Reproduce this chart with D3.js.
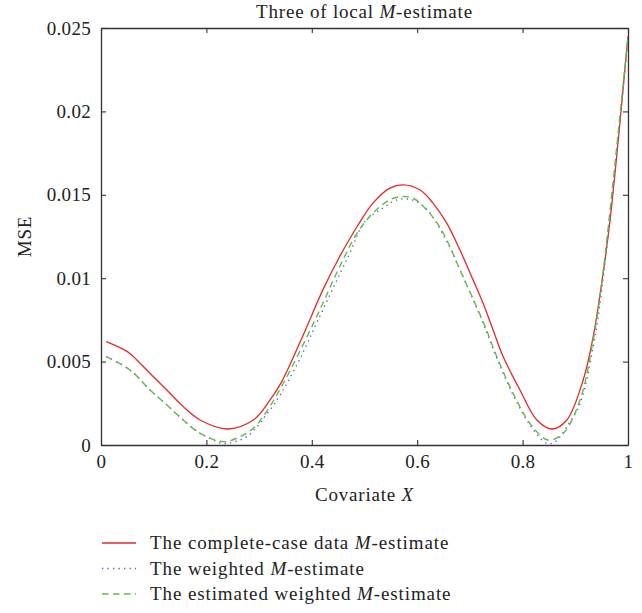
<!DOCTYPE html>
<html lang="en">
<head>
  <meta charset="UTF-8">
  <title>Three of local M-estimate</title>
  <style>
    body { margin: 0; background: #fff; }
    svg text { font-family: "Liberation Serif", "DejaVu Serif", serif; fill: #222; }
  </style>
</head>
<body>
  <div id="chart"></div>

  <script src="https://d3js.org/d3.v7.min.js"></script>

  <script>
    // values
    var xTicks = [0, 0.2, 0.4, 0.6, 0.8, 1];
    var yTicks = [0, 0.005, 0.01, 0.015, 0.02, 0.025];

    var completeX = [0.01, 0.05, 0.068, 0.093, 0.125, 0.156, 0.188, 0.24, 0.289, 0.321, 0.343, 0.381, 0.421, 0.453, 0.486, 0.516, 0.548, 0.573, 0.605, 0.630, 0.656, 0.681, 0.706, 0.725, 0.744, 0.763, 0.795, 0.827, 0.856, 0.884, 0.915, 0.934, 0.951, 0.966, 1.0];
    var completeY = [0.0062, 0.0056, 0.0051, 0.0043, 0.0033, 0.0023, 0.0015, 0.00096, 0.0015, 0.0027, 0.0038, 0.0064, 0.0093, 0.0113, 0.0131, 0.0145, 0.0154, 0.0156, 0.0153, 0.0145, 0.0133, 0.0117, 0.0099, 0.0085, 0.0069, 0.0053, 0.0033, 0.0015, 0.00096, 0.0015, 0.0039, 0.0065, 0.0099, 0.0135, 0.0245];

    var weightedX = [0.01, 0.055, 0.093, 0.125, 0.156, 0.188, 0.207, 0.23, 0.254, 0.277, 0.296, 0.311, 0.334, 0.353, 0.378, 0.412, 0.469, 0.501, 0.535, 0.562, 0.590, 0.619, 0.656, 0.687, 0.725, 0.751, 0.782, 0.814, 0.846, 0.862, 0.884, 0.909, 0.934, 0.951, 1.0];
    var weightedY = [0.0053, 0.0045, 0.0033, 0.0024, 0.0015, 0.0007, 0.0004, 0.0001, 0.0002, 0.0005, 0.0011, 0.0017, 0.0027, 0.0037, 0.0052, 0.0075, 0.0113, 0.0134, 0.0142, 0.0147, 0.0147, 0.0141, 0.0122, 0.0101, 0.0073, 0.0052, 0.0030, 0.0012, 0.0001, 0.0002, 0.0011, 0.0025, 0.0059, 0.0095, 0.0244];

    var estimatedX = [0.01, 0.055, 0.093, 0.125, 0.156, 0.188, 0.232, 0.264, 0.289, 0.314, 0.346, 0.391, 0.421, 0.453, 0.486, 0.516, 0.548, 0.573, 0.592, 0.615, 0.640, 0.662, 0.681, 0.704, 0.729, 0.751, 0.782, 0.814, 0.848, 0.877, 0.909, 0.934, 0.951, 1.0];
    var estimatedY = [0.0053, 0.0045, 0.0033, 0.0024, 0.0015, 0.0007, 0.0002, 0.0005, 0.0010, 0.0020, 0.0037, 0.0065, 0.0085, 0.0107, 0.0127, 0.0139, 0.0147, 0.0149, 0.0148, 0.0142, 0.0132, 0.0119, 0.0105, 0.0089, 0.0071, 0.0053, 0.0031, 0.0013, 0.0003, 0.0007, 0.0027, 0.0063, 0.0099, 0.0245];

    var series = [
      {name: "The complete-case data ", xs: completeX, ys: completeY, color: "#e8272b", dash: null},
      {name: "The weighted ", xs: weightedX, ys: weightedY, color: "#4566c4", dash: "1.3,4.2"},
      {name: "The estimated weighted ", xs: estimatedX, ys: estimatedY, color: "#62bd3f", dash: "6.5,4.5"}
    ];

    var margin = {top: 28, right: 14, bottom: 168, left: 101},
      width = 642 - margin.left - margin.right,
      height = 613 - margin.top - margin.bottom;

    var svg = d3.select("#chart")
      .append("svg")
      .attr("width", 642)
      .attr("height", 613)
      .append("g")
      .attr("transform", "translate(" + margin.left + "," + margin.top + ")");

    var x = d3.scaleLinear().domain([0, 1]).range([0, width]);
    var y = d3.scaleLinear().domain([0, 0.025]).range([height, 0]);

    var fmt = function(d) { return d3.format("")(+d.toFixed(3)); };

    // axes, ticks pointing inwards on all four sides
    var axes = [
      {ax: d3.axisBottom(x).tickValues(xTicks).tickFormat(fmt), t: "translate(0," + height + ")"},
      {ax: d3.axisTop(x).tickValues(xTicks).tickFormat(""), t: "translate(0,0)"},
      {ax: d3.axisLeft(y).tickValues(yTicks).tickFormat(fmt), t: "translate(0,0)"},
      {ax: d3.axisRight(y).tickValues(yTicks).tickFormat(""), t: "translate(" + width + ",0)"}
    ];
    axes.forEach(function(a) {
      var g = svg.append("g")
        .attr("transform", a.t)
        .call(a.ax.tickSizeInner(-5).tickSizeOuter(0).tickPadding(10));
      g.select(".domain").attr("stroke", "#333").attr("stroke-width", 1.3);
      g.selectAll(".tick line").attr("stroke", "#333").attr("stroke-width", 1.1);
      g.selectAll(".tick text")
        .style("font-family", "'Liberation Serif', serif")
        .style("font-size", "19px")
        .style("letter-spacing", "0.3px")
        .attr("fill", "#222");
    });

    // clip the curves to the plot box
    svg.append("clipPath").attr("id", "clip")
      .append("rect").attr("width", width).attr("height", height);

    var line = d3.line()
      .x(function(d) { return x(d[0]); })
      .y(function(d) { return y(d[1]); })
      .curve(d3.curveCatmullRom.alpha(0.5));

    // draw back to front: red, then blue dots, then green dashes
    series.forEach(function(s) {
      var pts = s.xs.map(function(v, i) { return [v, s.ys[i]]; });
      svg.append("path")
        .datum(pts)
        .attr("clip-path", "url(#clip)")
        .attr("fill", "none")
        .attr("stroke", s.color)
        .attr("stroke-width", s.dash ? 1.4 : 1.3)
        .attr("stroke-dasharray", s.dash)
        .attr("d", line);
    });

    // title
    var title = svg.append("text")
      .attr("x", width / 2)
      .attr("y", -10)
      .attr("text-anchor", "middle")
      .style("font-size", "19px")
      .style("letter-spacing", "0.8px");
    title.append("tspan").text("Three of local ");
    title.append("tspan").style("font-style", "italic").text("M");
    title.append("tspan").text("-estimate");

    // axis titles
    var xl = svg.append("text")
      .attr("x", width / 2)
      .attr("y", height + 56)
      .attr("text-anchor", "middle")
      .style("font-size", "19px")
      .style("letter-spacing", "0.8px");
    xl.append("tspan").text("Covariate ");
    xl.append("tspan").style("font-style", "italic").text("X");

    svg.append("text")
      .attr("transform", "rotate(-90)")
      .attr("x", -height / 2)
      .attr("y", -70)
      .attr("text-anchor", "middle")
      .style("font-size", "19px")
      .style("letter-spacing", "0.8px")
      .text("MSE");

    // legend
    var legend = svg.append("g")
      .attr("transform", "translate(0," + (height + 98) + ")");
    series.forEach(function(s, i) {
      var row = legend.append("g").attr("transform", "translate(0," + (i * 25.5) + ")");
      row.append("line")
        .attr("x1", 1).attr("x2", 35)
        .attr("stroke", s.color)
        .attr("stroke-width", 1.3)
        .attr("stroke-dasharray", s.dash);
      var t = row.append("text")
        .attr("x", 49)
        .attr("y", 6)
        .style("font-size", "19px")
        .style("letter-spacing", "0.9px");
      t.append("tspan").text(s.name);
      t.append("tspan").style("font-style", "italic").text("M");
      t.append("tspan").text("-estimate");
    });
  </script>
</body>
</html>
